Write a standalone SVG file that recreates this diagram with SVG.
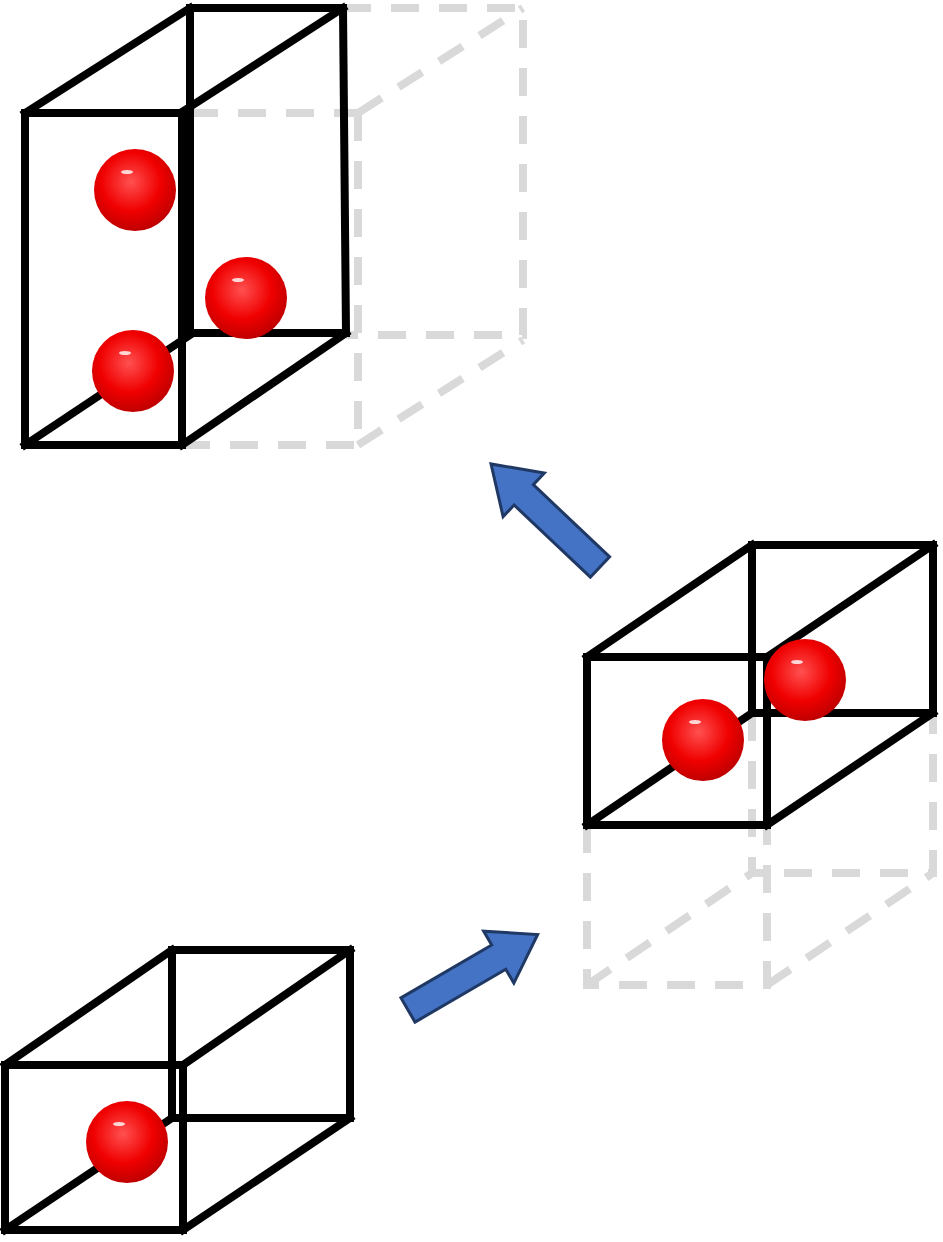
<svg xmlns="http://www.w3.org/2000/svg" width="943" height="1242" viewBox="0 0 943 1242">
<style>
.s{fill:none;stroke:#000;stroke-width:8;stroke-linejoin:miter;stroke-linecap:square}
.d{fill:none;stroke:#d9d9d9;stroke-width:8;stroke-dasharray:28,20}
.ar{fill:#4472c4;stroke:#1f3864;stroke-width:3}
</style>
<defs>
<radialGradient id="g" cx="0.45" cy="0.4" r="0.6">
<stop offset="0" stop-color="#ff5050"/>
<stop offset="0.6" stop-color="#f00000"/>
<stop offset="1" stop-color="#c00000"/>
</radialGradient>
<g id="ball"><circle r="41" fill="url(#g)"/><ellipse cx="-8" cy="-18" rx="6" ry="2" fill="#fff" opacity="0.8"/></g>
</defs>
<rect width="943" height="1242" fill="#fff"/>
<g id="box1">
<path class="d" d="M343,8H523V335H346M358,113V445M182,445H358M358,113L523,8M358,445L523,340M190,113H358"/>
<path class="s" d="M25,113H182V445H25ZM190,8H343L346,333H190ZM190,8V333M25,113L190,8M185,110L343,8M25,445L190,335M182,445L346,333"/>
<use href="#ball" x="135" y="190"/><use href="#ball" x="246" y="298"/><use href="#ball" x="133" y="371"/>
</g>
<g id="box2">
<path class="d" d="M587,825V985H767V825M752,713V873H933V713M587,985L752,873M767,985L933,873"/>
<path class="s" d="M587,657H767V825H587ZM752,545H933V713H752ZM587,657L752,545M767,657L933,545M587,825L752,713M767,825L933,713"/>
<use href="#ball" x="805" y="680"/><use href="#ball" x="703" y="740"/>
</g>
<g id="box3">
<path class="s" d="M5,1065H183V1230H5ZM172,950H350V1118H172ZM5,1065L172,950M183,1065L350,950M5,1230L172,1118M183,1230L350,1118"/>
<use href="#ball" x="127" y="1142"/>
</g>
<g id="connectors">
<polygon class="ar" transform="translate(408,1010) rotate(-30.2)" points="0,-14 105,-14 105,-30 150,0 105,30 105,14 0,14"/>
<polygon class="ar" transform="translate(600,567) rotate(-136.6)" points="0,-14 105,-14 105,-30 150,0 105,30 105,14 0,14"/>
</g>
</svg>
